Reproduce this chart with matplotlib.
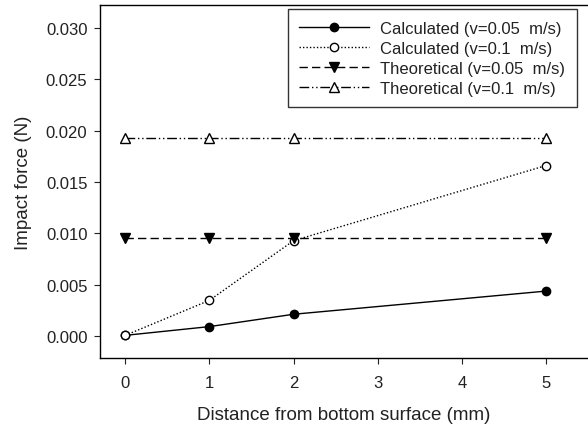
import matplotlib
matplotlib.use("Agg")
import matplotlib.pyplot as plt

plt.rcParams.update({"font.family": ["Liberation Sans", "DejaVu Sans"], "font.size": 12})

distance = [0, 1, 2, 5]
calc_005 = [0.0001, 0.00095, 0.00215, 0.0044]
calc_01 = [0.0001, 0.0035, 0.0093, 0.0166]
theo_005 = [0.0096, 0.0096, 0.0096, 0.0096]
theo_01 = [0.0193, 0.0193, 0.0193, 0.0193]

yticks = [0.000, 0.005, 0.010, 0.015, 0.020, 0.025, 0.030]
xticks = [0, 1, 2, 3, 4, 5]
labels = ["Calculated (v=0.05  m/s)", "Calculated (v=0.1  m/s)",
          "Theoretical (v=0.05  m/s)", "Theoretical (v=0.1  m/s)"]

TXT = "#222222"
fig = plt.figure(figsize=(5.88, 4.27), dpi=100)
ax = fig.add_axes([100 / 588, 1 - 359 / 427, 1 - 100 / 588, (359 - 6) / 427])

ax.plot(distance, calc_005, "-", color="black", lw=1, marker="o", ms=6,
        mfc="black", label=labels[0])
ax.plot(distance, calc_01, color="black", lw=1, ls=(0, (1, 1.5)), marker="o", ms=6,
        mfc="white", label=labels[1])
ax.plot(distance, theo_005, color="black", lw=1, ls=(0, (6, 3)), marker="v", ms=7,
        mfc="black", label=labels[2])
ax.plot(distance, theo_01, color="black", lw=1, ls=(0, (7, 2, 1, 2, 1, 2)), marker="^", ms=7,
        mfc="white", label=labels[3])

ax.set_xlim(-0.3, 5.5)
ax.set_ylim(-0.0021, 0.0322)
ax.set_xticks(xticks)
ax.set_yticks(yticks)
ax.set_yticklabels([f"{v:.3f}" for v in yticks])
ax.tick_params(direction="out", length=4, width=0.8, colors=TXT, labelsize=12, pad=5)
ax.tick_params(axis="x", pad=8)
ax.spines["right"].set_visible(False)
for s in ("left", "bottom", "top"):
    ax.spines[s].set_linewidth(1)

ax.set_xlabel("Distance from bottom surface (mm)", fontsize=13.5, color=TXT, labelpad=12)
ax.set_ylabel("Impact force (N)", fontsize=13.5, color=TXT, labelpad=10)

# box roughly x 297-577, y 10-107 px in the reference
leg = ax.legend(loc="upper right", bbox_to_anchor=(0.977, 0.9887), fontsize=12,
                handlelength=4.2, frameon=True, fancybox=False, edgecolor="black",
                borderaxespad=0, borderpad=0.7, labelspacing=0.3, handletextpad=0.65)
leg.get_frame().set_linewidth(1)
for t in leg.get_texts():
    t.set_color(TXT)

fig.savefig("out.png", dpi=100)
